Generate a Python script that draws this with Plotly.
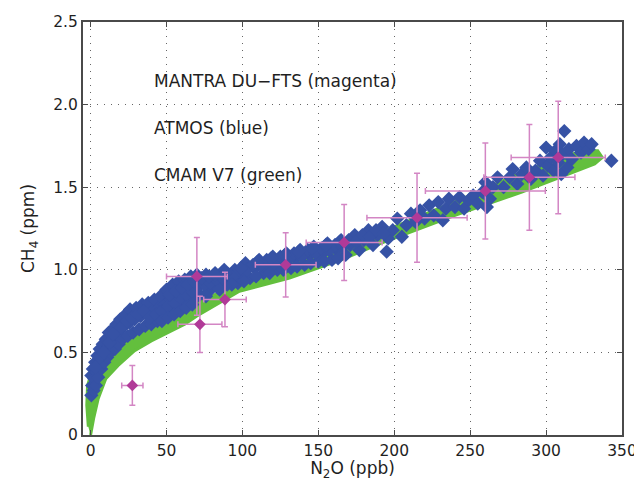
import plotly.graph_objects as go

# ---------------- data ----------------
# CMAM V7 (green) band: lower and upper envelopes
cmam_low_n2o = [0, 2, 5, 10, 18, 29, 40, 51, 62, 70, 98, 131, 165, 191, 240, 284, 317, 332, 337]
cmam_low_ch4 = [0.0, 0.10, 0.22, 0.34, 0.42, 0.51, 0.57, 0.62, 0.67, 0.72, 0.87, 0.95, 1.06, 1.16, 1.33, 1.47, 1.585, 1.64, 1.68]
cmam_up_n2o = [-1.5, -2.5, -2, 0, 5, 10, 20, 30, 50, 75, 100, 130, 165, 200, 250, 284, 309, 325, 334]
cmam_up_ch4 = [0.05, 0.18, 0.30, 0.36, 0.44, 0.50, 0.58, 0.62, 0.71, 0.82, 0.93, 1.03, 1.15, 1.26, 1.45, 1.59, 1.68, 1.72, 1.72]

# ATMOS (blue)
atmos_n2o = [0.5, 1, 0.5, 1.5, 2, 2.5, 3, 3.5, 4, 4.5, 5, 5.5, 6,
             7, 7.5, 8, 9, 9.5, 10, 11, 11.5, 12, 13, 14, 14.5, 16, 16.5, 17, 18.5, 19, 19.5,
             21, 22, 23, 24.5, 25.5, 26, 28, 29, 30, 32, 33, 34, 36, 37, 38, 40, 41, 42,
             44, 45, 46, 48, 49, 50, 52, 53, 54, 56, 57, 58, 60, 61, 62, 64, 65, 66,
             68, 69, 70, 72, 74, 76, 78, 80, 82, 84, 86, 88, 90, 92, 95, 97, 100, 102,
             105, 108, 111, 114, 117, 120, 123, 126, 129, 132, 135, 138, 141, 144, 147,
             150, 153, 156, 159, 162, 165, 168, 171, 174, 177, 180, 183, 186, 189, 192,
             195, 196, 199, 202, 205, 208, 211, 214, 217, 220, 223, 226, 229, 232, 234, 236,
             240, 243, 246, 249, 252, 255, 258, 260, 261, 263, 265, 268, 272, 276, 278,
             281, 284, 287, 290, 293, 296, 298, 300, 301, 303, 305, 306, 308, 309, 310,
             311, 312, 314, 315, 317, 320, 323, 325, 328, 330, 343,
             3, 6, 8.5, 12.5, 15, 20, 24, 27, 31, 35,
             39, 43, 47, 51, 55, 59, 63, 67, 71, 75, 79, 83, 87, 91, 94, 98,
             103, 107, 112, 116, 121, 125, 130, 134, 139, 143, 148, 152, 157, 161,
             166, 170, 175, 179, 184, 188, 193,
             47, 51, 55, 59, 63, 67, 76, 85, 93, 101, 109, 118, 127, 136, 145, 154, 163,
             52, 56, 60, 64, 68, 73, 78, 82, 89, 99, 110, 119, 128, 137, 146, 155, 164]
atmos_ch4 = [0.24, 0.30, 0.36, 0.40, 0.27, 0.34, 0.44, 0.30, 0.38, 0.48, 0.35, 0.43, 0.52,
             0.40, 0.47, 0.55, 0.44, 0.51, 0.58, 0.47, 0.54, 0.62, 0.50, 0.57, 0.64, 0.52, 0.60, 0.67, 0.55, 0.63, 0.70,
             0.58, 0.66, 0.73, 0.60, 0.68, 0.76, 0.62, 0.70, 0.77, 0.64, 0.72, 0.79, 0.66, 0.74, 0.80, 0.67, 0.75, 0.82,
             0.69, 0.77, 0.84, 0.71, 0.79, 0.88, 0.73, 0.82, 0.91, 0.75, 0.84, 0.93, 0.77, 0.86, 0.94, 0.80, 0.88, 0.96,
             0.82, 0.90, 0.97, 0.85, 0.92, 0.97, 0.87, 0.94, 0.98, 0.89, 0.95, 1.00, 0.91, 0.96, 1.00, 0.92, 0.97, 1.04,
             0.95, 1.01, 1.06, 0.98, 1.03, 1.08, 1.00, 1.05, 1.10, 1.01, 1.07, 1.12, 1.03, 1.09, 1.14,
             1.05, 1.10, 1.16, 1.06, 1.12, 1.18, 1.09, 1.15, 1.21, 1.12, 1.18, 1.24, 1.15, 1.21, 1.26,
             1.11, 1.19, 1.24, 1.31, 1.20, 1.27, 1.34, 1.29, 1.36, 1.31, 1.39, 1.33, 1.41, 1.30, 1.37, 1.43,
             1.38, 1.44, 1.37, 1.42, 1.45, 1.40, 1.47, 1.53, 1.38, 1.43, 1.50, 1.56, 1.50, 1.56, 1.61,
             1.52, 1.58, 1.62, 1.55, 1.60, 1.66, 1.57, 1.74, 1.63, 1.68, 1.60, 1.72, 1.65, 1.76, 1.58,
             1.70, 1.84, 1.62, 1.73, 1.67, 1.75, 1.71, 1.77, 1.73, 1.76, 1.66,
             0.41, 0.47, 0.50, 0.56, 0.61, 0.65, 0.69, 0.71, 0.73, 0.75,
             0.71, 0.73, 0.75, 0.78, 0.80, 0.83, 0.85, 0.87, 0.90, 0.91, 0.92, 0.94, 0.95, 0.97, 0.96, 1.00,
             1.00, 1.03, 1.03, 1.06, 1.04, 1.08, 1.06, 1.10, 1.08, 1.12, 1.10, 1.13, 1.12, 1.15,
             1.14, 1.18, 1.17, 1.21, 1.20, 1.24, 1.22,
             0.69, 0.71, 0.73, 0.75, 0.77, 0.79, 0.84, 0.88, 0.91, 0.93, 0.96, 0.98, 1.00, 1.02, 1.04, 1.05, 1.07,
             0.85, 0.87, 0.89, 0.91, 0.93, 0.95, 0.96, 0.97, 0.98, 1.01, 1.05, 1.07, 1.09, 1.11, 1.13, 1.15, 1.17]

# MANTRA DU-FTS (magenta) with error bars
mantra_n2o = [27.5, 72, 88.5, 70, 128.5, 167, 215, 260, 289, 308]
mantra_ch4 = [0.30, 0.67, 0.82, 0.96, 1.03, 1.165, 1.315, 1.477, 1.56, 1.68]
mantra_n2o_err = [7, 14.5, 14, 20, 20, 25, 33, 39.5, 30, 31]
mantra_ch4_err = [0.12, 0.17, 0.165, 0.235, 0.195, 0.23, 0.27, 0.29, 0.32, 0.34]

x_ticks = [0, 50, 100, 150, 200, 250, 300, 350]
y_ticks = [0, 0.5, 1.0, 1.5, 2.0, 2.5]
y_tick_text = ["0", "0.5", "1.0", "1.5", "2.0", "2.5"]

labels = ["MANTRA DU\u2212FTS (magenta)", "ATMOS (blue)", "CMAM V7 (green)"]
label_y = [2.145, 1.86, 1.575]

GREEN = "#63bf3d"
BLUE = "#3652a5"
MAGENTA = "#b13a98"
PINK = "#d386c4"
FONT = "DejaVu Sans, Liberation Sans, sans-serif"
TXT = "#1f1f1f"

fig = go.Figure()

# green band polygon
band_x = cmam_low_n2o + cmam_up_n2o[::-1]
band_y = cmam_low_ch4 + cmam_up_ch4[::-1]
fig.add_trace(go.Scatter(x=band_x, y=band_y, mode="lines", fill="toself",
                         fillcolor=GREEN, line=dict(color=GREEN, width=3),
                         hoverinfo="skip", showlegend=False))

fig.add_trace(go.Scatter(x=atmos_n2o, y=atmos_ch4, mode="markers",
                         marker=dict(symbol="diamond", size=11, color=BLUE,
                                     line=dict(width=0)),
                         showlegend=False))

fig.add_trace(go.Scatter(x=mantra_n2o, y=mantra_ch4, mode="markers",
                         marker=dict(symbol="diamond", size=9, color=MAGENTA),
                         error_x=dict(type="data", array=mantra_n2o_err, color=PINK,
                                      thickness=1.5, width=3),
                         error_y=dict(type="data", array=mantra_ch4_err, color=PINK,
                                      thickness=1.5, width=3),
                         showlegend=False))

for t, yv in zip(labels, label_y):
    fig.add_annotation(x=40.5, y=yv, xref="x", yref="y", text=t, showarrow=False,
                       xanchor="left", yanchor="middle",
                       font=dict(family=FONT, size=17, color=TXT))

axis_common = dict(showline=True, linecolor="#4a4a4a", linewidth=2, mirror="ticks",
                   ticks="inside", ticklen=5, tickcolor="#4a4a4a", automargin=False,
                   showgrid=True, gridcolor="#666666", griddash="1px,6px", gridwidth=1.2,
                   zeroline=False,
                   tickfont=dict(family=FONT, size=15.5, color=TXT))

fig.update_xaxes(range=[-5, 350], tickvals=x_ticks,
                 title=dict(text="N<sub>2</sub>O (ppb)", standoff=4,
                            font=dict(family=FONT, size=17, color=TXT)),
                 **axis_common)
fig.update_yaxes(range=[0, 2.5], tickvals=y_ticks, ticktext=y_tick_text,
                 title=dict(text="CH<sub>4</sub> (ppm)", standoff=14,
                            font=dict(family=FONT, size=17, color=TXT)),
                 **axis_common)

# page body has an 8px margin, so the figure is sized to fit the window
fig.update_layout(width=634, height=473, margin=dict(l=75, r=20, t=14, b=46),
                  plot_bgcolor="white", paper_bgcolor="white")

fig.write_html("out.html")
